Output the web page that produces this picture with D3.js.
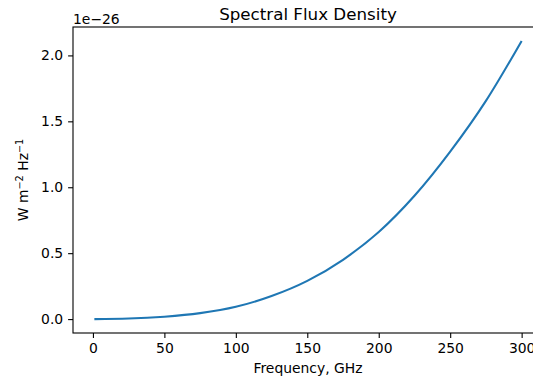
<!DOCTYPE html>
<html>
<head>
<meta charset="utf-8">
<script src="https://cdn.jsdelivr.net/npm/d3@7"></script>
<style>
  html, body { margin: 0; padding: 0; background: #fff; }
  svg text { font-family: "DejaVu Sans", sans-serif; fill: #000; }
</style>
</head>
<body>
<svg id="chart" width="533" height="378"></svg>
<script>
// frequency in GHz, flux in units of 1e-26 W m^-2 Hz^-1
const freqs = [1, 25, 50, 75, 100, 125, 150, 175, 200, 225, 250, 275, 300];
const flux = [0.0, 0.004, 0.018, 0.045, 0.093, 0.175, 0.29, 0.45, 0.66, 0.935, 1.27, 1.655, 2.11];
const xTicks = [0, 50, 100, 150, 200, 250, 300];
const yTicks = [0.0, 0.5, 1.0, 1.5, 2.0];

const MARGIN = { top: 27, right: -10, bottom: 45, left: 73 };
const W = 533, H = 378;
const FONT = 13.9;
const TICK = 4.9;

const svg = d3.select('#chart');
const points = freqs.map((f, i) => ({ f, v: flux[i] }));

// matplotlib style 5% padding around data range
const xPad = (d3.max(freqs) - d3.min(freqs)) * 0.05;
const yPad = (d3.max(flux) - d3.min(flux)) * 0.05;

const x = d3.scaleLinear()
  .domain([d3.min(freqs) - xPad, d3.max(freqs) + xPad])
  .range([MARGIN.left, W - MARGIN.right]);

const y = d3.scaleLinear()
  .domain([d3.min(flux) - yPad, d3.max(flux) + yPad])
  .range([H - MARGIN.bottom, MARGIN.top]);

const xAxis = svg.append('g')
  .attr('transform', `translate(0,${H - MARGIN.bottom})`)
  .call(d3.axisBottom(x).tickValues(xTicks).tickFormat(d3.format('d')).tickSizeOuter(0).tickSize(TICK).tickPadding(TICK));

const yAxis = svg.append('g')
  .attr('transform', `translate(${MARGIN.left},0)`)
  .call(d3.axisLeft(y).tickValues(yTicks).tickFormat(d3.format('.1f')).tickSizeOuter(0).tickSize(TICK).tickPadding(TICK));

[xAxis, yAxis].forEach((g) => {
  g.select('.domain').remove();
  g.selectAll('line').attr('stroke', '#000').attr('stroke-width', 1.1);
  g.selectAll('text').attr('font-size', FONT).attr('font-family', 'DejaVu Sans').attr('fill', '#000');
});

// spines
const frame = svg.append('g').attr('fill', 'none').attr('stroke', '#000').attr('stroke-width', 1.1);
frame.append('rect')
  .attr('x', MARGIN.left)
  .attr('y', MARGIN.top)
  .attr('width', W - MARGIN.right - MARGIN.left)
  .attr('height', H - MARGIN.bottom - MARGIN.top);

const line = d3.line()
  .x((d) => x(d.f))
  .y((d) => y(d.v))
  .curve(d3.curveMonotoneX);

svg.append('path')
  .datum(points)
  .attr('fill', 'none')
  .attr('stroke', '#1f77b4')
  .attr('stroke-width', 2.1)
  .attr('d', line);

const cx = (MARGIN.left + W - MARGIN.right) / 2;

svg.append('text')
  .attr('x', cx)
  .attr('y', 20)
  .attr('text-anchor', 'middle')
  .attr('font-size', 16.7)
  .text('Spectral Flux Density');

svg.append('text')
  .attr('x', MARGIN.left)
  .attr('y', 24)
  .attr('font-size', FONT)
  .text('1e\u221226');

svg.append('text')
  .attr('x', cx)
  .attr('y', 373)
  .attr('text-anchor', 'middle')
  .attr('font-size', FONT)
  .text('Frequency, GHz');

const yl = svg.append('text')
  .attr('transform', `translate(28,${(MARGIN.top + H - MARGIN.bottom) / 2}) rotate(-90)`)
  .attr('text-anchor', 'middle')
  .attr('font-size', FONT);
yl.append('tspan').text('W m');
yl.append('tspan').attr('font-size', 9.7).attr('dy', -5.5).text('\u22122');
yl.append('tspan').attr('dy', 5.5).text(' Hz');
yl.append('tspan').attr('font-size', 9.7).attr('dy', -5.5).text('\u22121');
</script>
</body>
</html>
